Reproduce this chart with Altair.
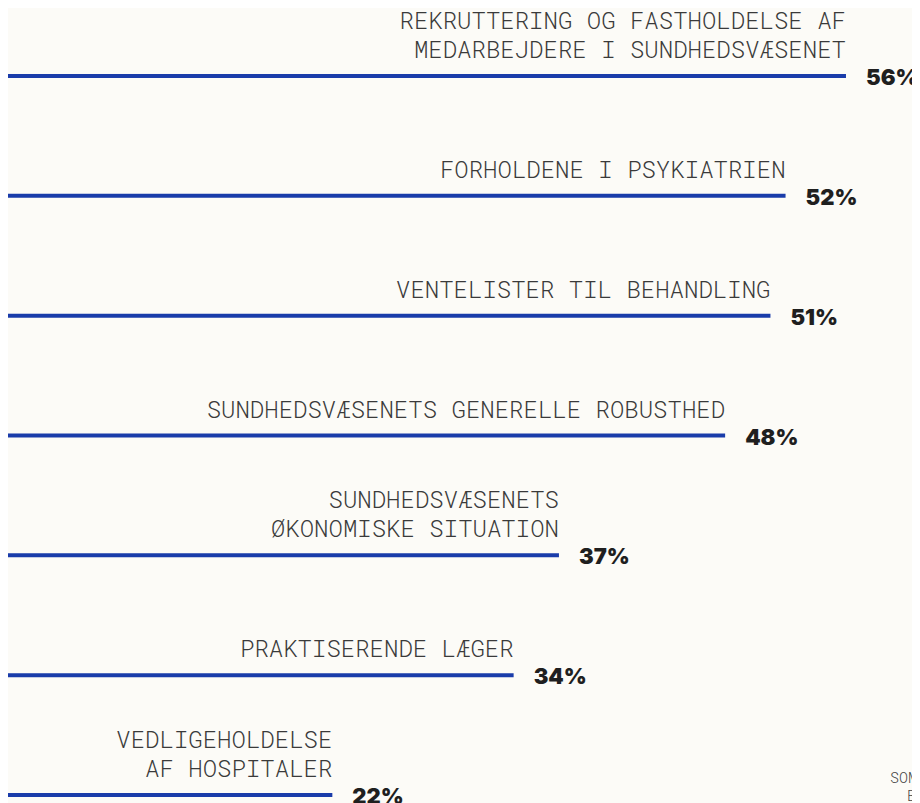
import altair as alt
import pandas as pd

labels_upper = [
    "REKRUTTERING OG FASTHOLDELSE AF\u00a0",
    "",
    "",
    "",
    "SUNDHEDSVÆSENETS",
    "",
    "VEDLIGEHOLDELSE",
]
labels_lower = [
    "MEDARBEJDERE I SUNDHEDSVÆSENET",
    "FORHOLDENE I PSYKIATRIEN",
    "VENTELISTER TIL BEHANDLING",
    "SUNDHEDSVÆSENETS GENERELLE ROBUSTHED",
    "ØKONOMISKE SITUATION",
    "PRAKTISERENDE LÆGER",
    "AF HOSPITALER",
]
values = [56, 52, 51, 48, 37, 34, 22]
pct_text = [f"{v}%" for v in values]
note_lines = ["SOM ANDEL", "BESVARELSER"]

BLUE = "#1a3caa"
MONO = "Roboto Mono, DejaVu Sans Mono, monospace"
BOLD = "Inter, Roboto, sans-serif"

df = pd.DataFrame({
    "key": [u + "|" + l for u, l in zip(labels_upper, labels_lower)],
    "upper": labels_upper,
    "lower": labels_lower,
    "value": values,
    "pct": pct_text,
})
order = list(df["key"])

xscale = alt.Scale(domain=[0.53, 60.37], nice=False, zero=False)
yenc = alt.Y("key:N", sort=order,
             scale=alt.Scale(type="point", range=[68, 787], padding=0), axis=None)
xenc = alt.X("value:Q", scale=xscale, axis=None)

base = alt.Chart(df).encode(y=yenc, x=xenc)

rules = base.mark_rule(strokeWidth=4, color=BLUE).encode(x2=alt.datum(0))

text_style = dict(align="right", baseline="bottom", fontSize=24, font=MONO,
                  fontWeight=300, color="#3a3a3a")
lower = base.mark_text(dy=-13, **text_style).encode(text="lower:N")
upper = base.mark_text(dy=-42, **text_style).encode(text="upper:N")

pcts = base.mark_text(
    align="left", baseline="alphabetic", dx=20, dy=9, fontSize=22, font=BOLD,
    fontWeight=900, color="#1f1f1f",
).encode(text="pct:N")

note_style = dict(align="left", baseline="alphabetic", fontSize=15, font=MONO,
                  fontWeight=300, color="#444444")
note1 = alt.Chart(pd.DataFrame({"t": [note_lines[0]]})).mark_text(**note_style).encode(
    x=alt.value(882), y=alt.value(775), text="t:N")
note2 = alt.Chart(pd.DataFrame({"t": [note_lines[1]]})).mark_text(**note_style).encode(
    x=alt.value(899), y=alt.value(793), text="t:N")

chart = alt.layer(rules, lower, upper, pcts, note1, note2).properties(
    width=904, height=795, padding=0,
    autosize=alt.AutoSizeParams(type="none"),
    background="#fcfbf7",
).configure_view(stroke=None)

chart.save("out.html", embed_options={"renderer": "svg", "actions": False})
